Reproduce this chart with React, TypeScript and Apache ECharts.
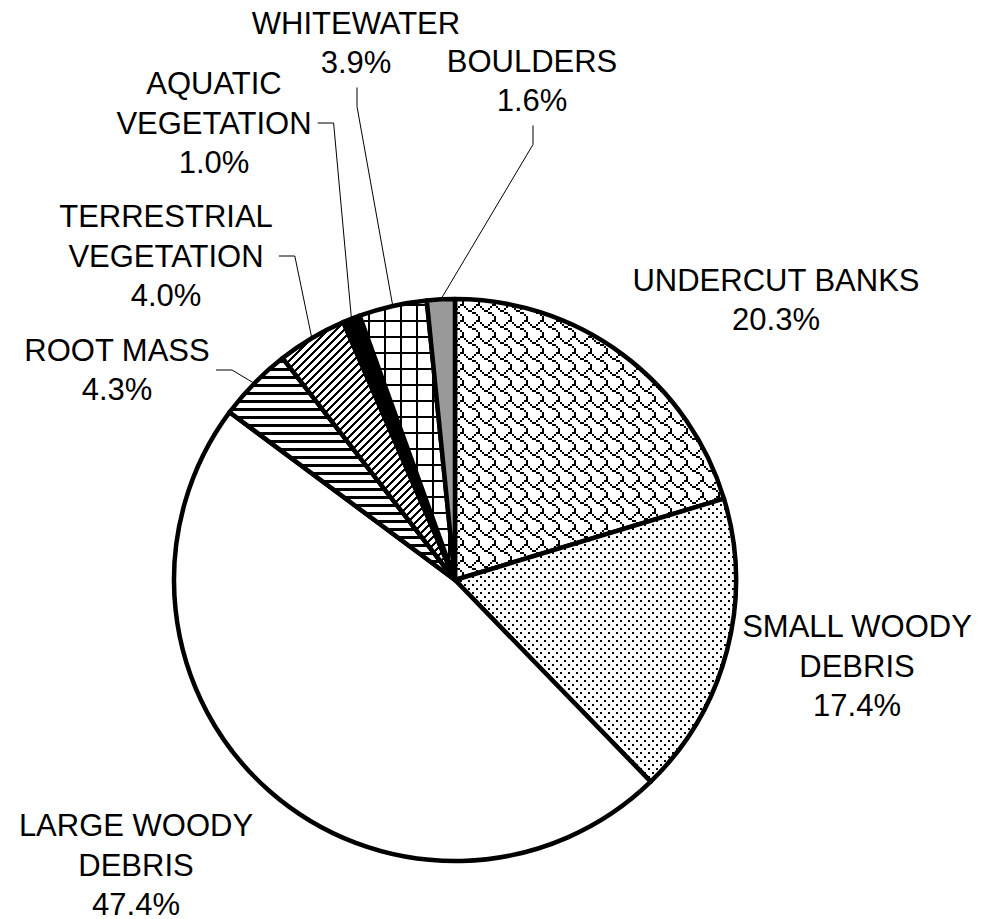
import React, { useEffect, useRef } from "react";
import * as echarts from "echarts";

// ---- data ----
const categories = [
  "UNDERCUT BANKS",
  "SMALL WOODY\nDEBRIS",
  "LARGE WOODY\nDEBRIS",
  "ROOT MASS",
  "TERRESTRIAL\nVEGETATION",
  "AQUATIC\nVEGETATION",
  "WHITEWATER",
  "BOULDERS",
];
const percentages = [20.3, 17.4, 47.4, 4.3, 4.0, 1.0, 3.9, 1.6];

// ---- layout (label block centres and leader style) ----
const labelCenters: number[][] = [
  [776, 300],
  [857, 666],
  [136, 865],
  [117, 370],
  [166, 256],
  [214, 123],
  [356, 43],
  [532, 81],
];
const leaderKinds = ["none", "none", "none", "side", "side", "side", "top", "top"];

function tile(w: number, h: number, draw: (ctx: CanvasRenderingContext2D) => void) {
  const c = document.createElement("canvas");
  c.width = w;
  c.height = h;
  const ctx = c.getContext("2d")!;
  ctx.fillStyle = "#fff";
  ctx.fillRect(0, 0, w, h);
  ctx.fillStyle = "#000";
  draw(ctx);
  return { image: c, repeat: "repeat", imageWidth: w, imageHeight: h } as any;
}

function bitsTile(rows: string[], scale: number) {
  const n = rows.length;
  const m = rows[0].length;
  return tile(m * scale, n * scale, (ctx) => {
    for (let y = 0; y < n; y++)
      for (let x = 0; x < m; x++)
        if (rows[y][x] === "#") ctx.fillRect(x * scale, y * scale, scale, scale);
  });
}

export default function App() {
  const ref = useRef<HTMLDivElement>(null);
  useEffect(() => {
    if (!ref.current) return;
    const chart = echarts.init(ref.current, undefined, { renderer: "svg" });

    const shingle = bitsTile(
      [
        "......##",
        "#....#..",
        ".#..#...",
        "..##....",
        "....##..",
        "......#.",
        ".......#",
        ".......#",
      ],
      2
    );
    const dots = tile(8, 8, (ctx) => {
      ctx.fillRect(0, 0, 2, 2);
      ctx.fillRect(4, 4, 2, 2);
    });
    const horiz = tile(8, 8, (ctx) => {
      ctx.fillRect(0, 0, 8, 3);
    });
    const diag = tile(8, 8, (ctx) => {
      for (let y = 0; y < 8; y++)
        for (let x = 0; x < 8; x++) if ((x + y) % 8 < 3) ctx.fillRect(x, y, 1, 1);
    });
    const grid = tile(16, 16, (ctx) => {
      ctx.fillRect(0, 0, 16, 2);
      ctx.fillRect(0, 0, 2, 16);
    });
    const fills: any[] = [shingle, dots, "#ffffff", horiz, diag, "#000000", grid, "#999999"];

    chart.setOption({
      animation: false,
      backgroundColor: "#ffffff",
      series: [
        {
          type: "pie",
          center: [455, 580],
          radius: 281,
          startAngle: 90,
          clockwise: true,
          avoidLabelOverlap: false,
          silent: true,
          itemStyle: { borderColor: "#000", borderWidth: 4.5 },
          label: {
            show: true,
            position: "outside",
            color: "#000",
            fontFamily: "Liberation Sans, Arial, sans-serif",
            fontSize: 31,
            lineHeight: 39.5,
            formatter: (p: any) => `${p.name}\n${Number(p.value).toFixed(1)}%`,
          },
          labelLine: {
            show: true,
            length: 10,
            length2: 10,
            lineStyle: { color: "#000", width: 1 },
          },
          labelLayout: (p: any) => {
            const i = p.dataIndex;
            const [x, y] = labelCenters[i];
            const w = p.labelRect.width;
            const h = p.labelRect.height;
            const out: any = { x, y, align: "center", verticalAlign: "middle" };
            const pts = p.labelLinePoints;
            const edge = pts && pts[0];
            if (edge && leaderKinds[i] === "side") {
              const ax = x + w / 2 + 6;
              out.labelLinePoints = [edge, [ax + 16, y], [ax, y]];
            } else if (edge && leaderKinds[i] === "top") {
              const ay = y + h / 2 + 5;
              out.labelLinePoints = [edge, [x + 1, ay + 19], [x + 1, ay]];
            }
            return out;
          },
          data: categories.map((name, i) => ({
            name,
            value: percentages[i],
            itemStyle: { color: fills[i] },
            labelLine: { show: leaderKinds[i] !== "none" },
          })),
        },
      ],
    });
    return () => chart.dispose();
  }, []);
  return (
    <div
      ref={ref}
      style={{ position: "fixed", left: 0, top: 0, width: 983, height: 919, background: "#fff" }}
    />
  );
}
